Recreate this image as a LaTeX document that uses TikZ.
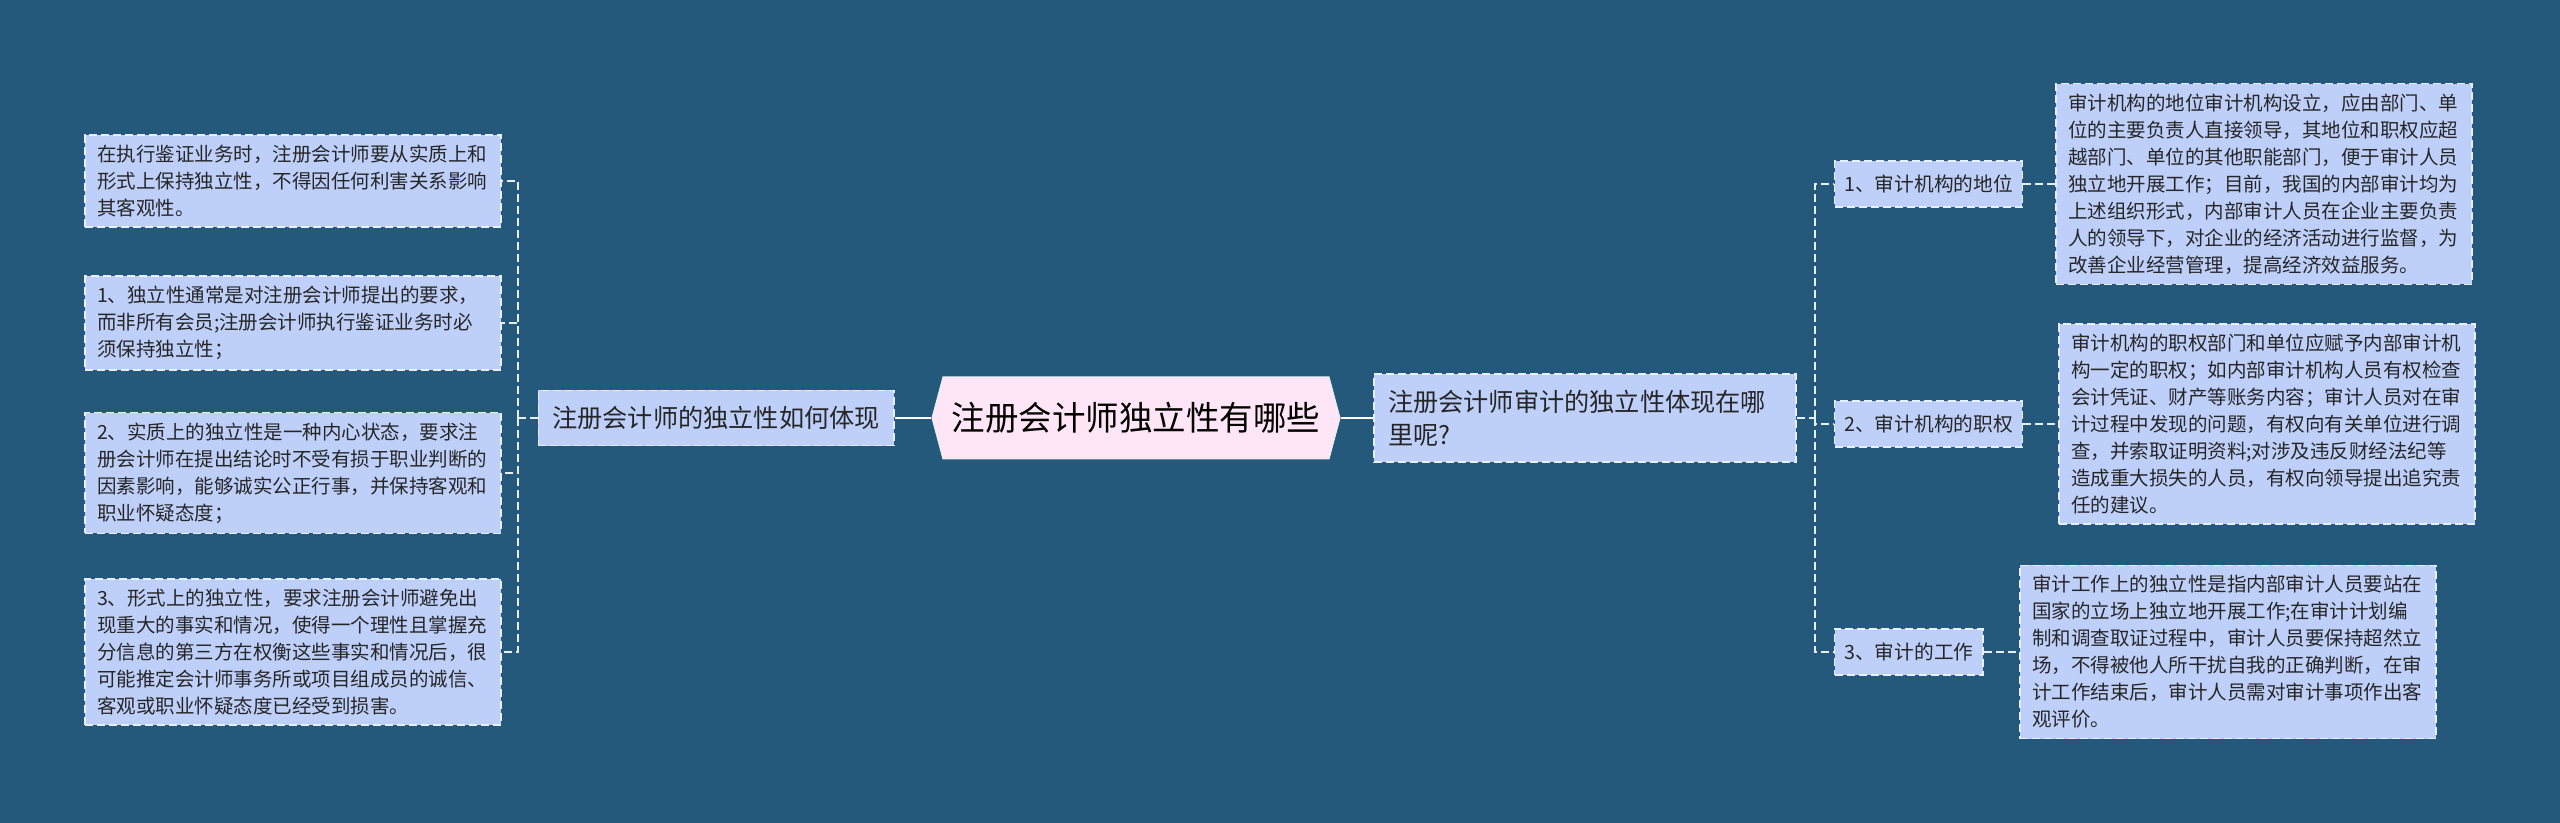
\documentclass[tikz,border=0pt]{standalone}
\usepackage{fontspec}
\newfontfamily\cjkfont{Noto Sans CJK SC}
\usetikzlibrary{shapes.symbols}

\definecolor{bgblue}{RGB}{36,89,123}
\definecolor{boxblue}{RGB}{190,208,250}
\definecolor{rootpink}{RGB}{255,230,246}
\definecolor{edgegray}{RGB}{232,238,246}

\begin{document}
\begin{tikzpicture}[x=0.5pt,y=-0.5pt,
    box/.style={draw=edgegray, line width=0.7pt, dash pattern=on 4pt off 2pt,
      fill=boxblue, text=black!85},
    leaf/.style={box, text width=196pt, align=left, inner xsep=6pt, inner ysep=5pt,
      font=\cjkfont\fontsize{9.75pt}{13.5pt}\selectfont},
    mid/.style={box, inner xsep=4.8pt, minimum height=23pt,
      font=\cjkfont\fontsize{9.85pt}{12.5pt}\selectfont},
    branch/.style={box, inner xsep=7pt, inner ysep=8pt,
      font=\cjkfont\fontsize{12.6pt}{16.5pt}\selectfont},
    rootbox/.style={signal, signal to=west and east, signal pointer angle=150,
      draw=edgegray, line width=0.5pt, fill=rootpink, text=black,
      minimum width=204pt, minimum height=41pt, inner xsep=2pt,
      font=\cjkfont\fontsize{16.75pt}{20pt}\selectfont},
    stem/.style={draw=white, line width=1.3pt},
    twig/.style={draw=edgegray, line width=0.9pt, dash pattern=on 4pt off 2pt}]
  \fill[bgblue] (0,0) rectangle (2560,823);
  \useasboundingbox (0,0) rectangle (2560,823);

  \node[rootbox] (root) at (1136,418) {注册会计师独立性有哪些};
  \node[branch] (lb) at (716,418) {注册会计师的独立性如何体现};
  \node[branch, text width=197pt, align=left] (rb) at (1585,418)
    {注册会计师审计的独立性体现在哪\\里呢?};

  \node[leaf] (l1) at (293,181) {在执行鉴证业务时，注册会计师要从实质上和\\形式上保持独立性，不得因任何利害关系影响\\其客观性。};
  \node[leaf] (l2) at (293,323) {1、独立性通常是对注册会计师提出的要求，\\而非所有会员;注册会计师执行鉴证业务时必\\须保持独立性；};
  \node[leaf] (l3) at (293,473) {2、实质上的独立性是一种内心状态，要求注\\册会计师在提出结论时不受有损于职业判断的\\因素影响，能够诚实公正行事，并保持客观和\\职业怀疑态度；};
  \node[leaf] (l4) at (293,652) {3、形式上的独立性，要求注册会计师避免出\\现重大的事实和情况，使得一个理性且掌握充\\分信息的第三方在权衡这些事实和情况后，很\\可能推定会计师事务所或项目组成员的诚信、\\客观或职业怀疑态度已经受到损害。};

  \node[mid, anchor=west] (m1) at (1834,184) {1、审计机构的地位};
  \node[mid, anchor=west] (m2) at (1834,424) {2、审计机构的职权};
  \node[mid, anchor=west] (m3) at (1834,652) {3、审计的工作};

  \node[leaf] (r1) at (2264,184) {审计机构的地位审计机构设立，应由部门、单\\位的主要负责人直接领导，其地位和职权应超\\越部门、单位的其他职能部门，便于审计人员\\独立地开展工作；目前，我国的内部审计均为\\上述组织形式，内部审计人员在企业主要负责\\人的领导下，对企业的经济活动进行监督，为\\改善企业经营管理，提高经济效益服务。};
  \node[leaf] (r2) at (2267,424) {审计机构的职权部门和单位应赋予内部审计机\\构一定的职权；如内部审计机构人员有权检查\\会计凭证、财产等账务内容；审计人员对在审\\计过程中发现的问题，有权向有关单位进行调\\查，并索取证明资料;对涉及违反财经法纪等\\造成重大损失的人员，有权向领导提出追究责\\任的建议。};
  \node[leaf] (r3) at (2228,652) {审计工作上的独立性是指内部审计人员要站在\\国家的立场上独立地开展工作;在审计计划编\\制和调查取证过程中，审计人员要保持超然立\\场，不得被他人所干扰自我的正确判断，在审\\计工作结束后，审计人员需对审计事项作出客\\观评价。};

  \coordinate (lj) at (518,418);
  \coordinate (rj) at (1815,418);

  \draw[stem] (root.west) -- (lb.east);
  \draw[stem] (root.east) -- (rb.west);

  \draw[twig] (lb.west) -- (lj);
  \foreach \leaf in {l1,l2,l3,l4}
    \draw[twig] (lj) |- (\leaf.east);

  \draw[twig] (rb.east) -- (rj);
  \foreach \item in {m1,m2,m3}
    \draw[twig] (rj) |- (\item.west);

  \draw[twig] (m1.east) -- (r1.west);
  \draw[twig] (m2.east) -- (r2.west);
  \draw[twig] (m3.east) -- (r3.west);
\end{tikzpicture}
\end{document}
